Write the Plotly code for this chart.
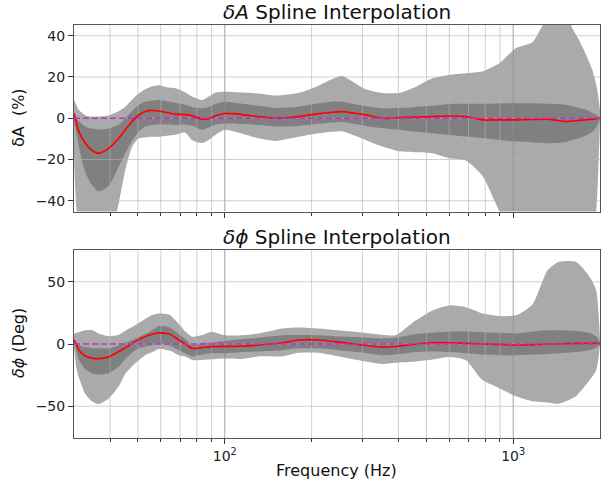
import math
import plotly.graph_objects as go

# ---------------- amplitude residual (percent) ----------------
freq_amp = [30, 31.2, 32.8, 34.5, 36.5, 39.5, 42.9, 45.2, 47.7, 50.3, 53, 56, 59, 63,
            67.4, 73, 77, 83.4, 88, 93, 100, 115, 131, 150, 180, 206, 236, 255, 308,
            352, 402, 460, 525, 600, 685, 783, 895, 1023, 1168, 1334, 1524, 1600, 1690,
            1780, 1880, 1950, 2000]
amp_median = [2.3, -6.4, -12, -15.4, -17, -14.6, -9.7, -5.6, -1.6, 1.6, 3.3, 3.8, 3.5, 2.8,
              2.0, 1.8, 1.3, -0.5, -0.2, 1.2, 2.3, 1.8, 0.8, 0.0, 0.8, 2.0, 2.9, 3.2, 1.6,
              0.0, 0.3, 0.5, 0.8, 1.1, 0.8, -0.8, -0.8, -0.8, -0.6, -0.5, -1.6, -1.4, -1.0,
              -0.8, -0.4, -0.2, 0.0]
amp_inner_lo = [-1, -14, -26, -32, -35.5, -33, -23.4, -17, -11, -6.5, -4, -3.3, -3, -3,
                -3.3, -3, -3.5, -5.6, -4.5, -3, -2.5, -2.8, -3.3, -4, -3.7, -2.8, -2.1, -1.8, -3.7,
                -4.8, -5.6, -6.5, -7.3, -8.1, -8.9, -9.7, -10.5, -11.3, -11.7, -12.1, -11.5, -10.5, -9.7,
                -8.5, -6.5, -4, -0.5]
amp_inner_hi = [3, -1.5, -4, -5, -5.5, -5, -3, 0, 3.5, 6.5, 8, 8.5, 8.8, 8.3,
                7.5, 6.5, 5.5, 4.8, 5.5, 7, 8, 7, 6, 5, 5.6, 7, 8, 8, 5.8,
                4.8, 5, 5.5, 6, 6.9, 7, 7, 7.2, 7.3, 7.3, 7, 6.5, 5.8, 5,
                4.3, 2.7, 1.5, 0.5]
amp_outer_lo = [-20, -55, -60, -60, -60, -60, -41, -25, -13.8, -9.7, -9.3, -9, -9, -8.5,
                -8, -7, -10.5, -12, -10.5, -8, -5.6, -7.5, -9.7, -11, -9, -7.5, -6.5, -6.3, -10.5,
                -13.7, -16, -16.5, -17, -19.4, -20.5, -28, -45, -60, -60, -60, -60, -60, -60,
                -60, -60, -40, -2]
amp_outer_hi = [8.8, 4, 1.5, 0.8, 0.8, 1.3, 3.5, 5.6, 9, 12, 14, 15.5, 16, 15,
                14.5, 12.5, 10.5, 8.8, 10.5, 12.5, 12.9, 12.5, 12, 11, 12.2, 15, 19, 20.5, 14,
                12.2, 12.2, 15.3, 19.4, 21, 21.8, 22.6, 26.6, 34, 37, 50, 52, 44, 38,
                31.5, 23.5, 15, 4]

# ---------------- phase residual (degrees) ----------------
freq_phase = [30, 30.5, 31.2, 32.8, 34.6, 36.5, 39.5, 42.9, 45.2, 48.9, 53, 56, 59, 64.3,
              69.3, 73, 77, 83.4, 90, 100, 115, 131, 158, 180, 212, 249, 292, 351, 391,
              460, 525, 600, 685, 783, 895, 1023, 1168, 1315, 1440, 1650, 1840, 1940, 2000]
phase_median = [3.2, 0, -4.8, -9.6, -11.3, -11.7, -10.5, -6.1, -3, 1.9, 6, 7.8, 9, 8,
                3.2, 0, -3.5, -3, -2.1, -1.9, -1.8, -0.8, 1, 3.2, 3.2, 1.5, -0.5, -2.5, -2,
                0, 1, 1, 0.5, 0, -0.3, -0.8, -0.5, 0, 0, 0.5, 0.5, 0.5, 0.5]
phase_inner_lo = [2, -5, -12.8, -20, -23.5, -24.5, -23.5, -18, -12, -5, -2.1, -1, 0, -1.3,
                  -5, -7.5, -10, -8.5, -7.5, -7.5, -6.5, -6, -5, -3.5, -3.5, -5, -6.5, -9, -8.5,
                  -6.5, -6, -6.5, -7.5, -8.5, -9, -9, -8.5, -8, -7.5, -6.5, -5, -3, 0]
phase_inner_hi = [4, 1.5, -0.8, -2.5, -3.5, -3.5, -3.5, -1, 1, 4.5, 8, 11, 14.4, 13.5,
                  8, 4, -0.8, 1, 1.3, 2.4, 4, 5, 7, 7.2, 7, 6, 5.5, 4.5, 5,
                  8, 9, 10, 10, 9.5, 9, 8.5, 10, 11, 11, 10.5, 9, 6, 1]
phase_outer_lo = [-2.7, -18, -27, -40, -46, -48.3, -44, -34, -24, -15.5, -9, -6.5, -4, -5.3,
                  -9, -10, -12.8, -12.8, -12.3, -11.7, -12, -10, -10, -7, -7, -10, -13, -16, -15,
                  -14, -12.5, -10.5, -13, -29, -35.5, -42, -46, -47, -48, -42, -29, -21, -1]
phase_outer_hi = [8, 9, 9.5, 11, 11.2, 8.5, 6.4, 7.5, 10.7, 15, 20, 23.2, 24.5, 23.5,
                  16, 10, 5.9, 7.2, 9.9, 7, 7, 8.5, 12.5, 13.3, 12.5, 11, 9.5, 7.5, 7,
                  19, 27, 31, 29.5, 24.5, 22.5, 23, 32, 59, 66, 66, 54, 43, 3]

# ---------------- axes setup ----------------
X_RANGE = [30, 2000]
AMP_RANGE = [-45.2, 45.2]
PHASE_RANGE = [-75.5, 75.5]
amp_ticks = [-40, -20, 0, 20, 40]
phase_ticks = [-50, 0, 50]
major_freqs = [100, 1000]
minor_freqs = [40, 50, 60, 70, 80, 90, 200, 300, 400, 500, 600, 700, 800, 900]

LIGHT = "#aaaaaa"
DARK = "#808080"
FONT = "DejaVu Sans"

fig = go.Figure()


def add_panel(xa, ya, freq, med, in_lo, in_hi, out_lo, out_hi, yrange, yticks):
    common = dict(xaxis=xa, yaxis=ya, showlegend=False, hoverinfo="skip",
                  line=dict(width=0, shape="spline", smoothing=0.6), mode="lines")
    fig.add_trace(go.Scatter(x=freq, y=out_lo, **common))
    fig.add_trace(go.Scatter(x=freq, y=out_hi, fill="tonexty", fillcolor=LIGHT, **common))
    fig.add_trace(go.Scatter(x=freq, y=in_lo, **common))
    fig.add_trace(go.Scatter(x=freq, y=in_hi, fill="tonexty", fillcolor=DARK, **common))

    # grid drawn over the bands, under the curves
    for vals, color in ((minor_freqs, "rgba(176,176,176,0.6)"),
                        (major_freqs, "rgba(140,140,140,0.8)")):
        xs, ys = [], []
        for v in vals:
            xs += [v, v, None]
            ys += [yrange[0], yrange[1], None]
        fig.add_trace(go.Scatter(x=xs, y=ys, mode="lines", xaxis=xa, yaxis=ya,
                                 line=dict(color=color, width=1),
                                 showlegend=False, hoverinfo="skip"))
    xs, ys = [], []
    for t in yticks:
        xs += [X_RANGE[0], X_RANGE[1], None]
        ys += [t, t, None]
    fig.add_trace(go.Scatter(x=xs, y=ys, mode="lines", xaxis=xa, yaxis=ya,
                             line=dict(color="rgba(176,176,176,0.6)", width=1),
                             showlegend=False, hoverinfo="skip"))

    fig.add_trace(go.Scatter(x=freq, y=med, mode="lines", xaxis=xa, yaxis=ya,
                             line=dict(color="red", width=1.7, shape="spline", smoothing=0.6),
                             showlegend=False))
    fig.add_trace(go.Scatter(x=X_RANGE, y=[0, 0], mode="lines", xaxis=xa, yaxis=ya,
                             line=dict(color="rgb(190,50,200)", width=1.5, dash="6px,3px"),
                             showlegend=False, hoverinfo="skip"))


add_panel("x", "y", freq_amp, amp_median, amp_inner_lo, amp_inner_hi,
          amp_outer_lo, amp_outer_hi, AMP_RANGE, amp_ticks)
add_panel("x2", "y2", freq_phase, phase_median, phase_inner_lo, phase_inner_hi,
          phase_outer_lo, phase_outer_hi, PHASE_RANGE, phase_ticks)

W, H = 602, 489
x_dom = [74 / W, 600 / W]
top_dom = [1 - 211.5 / H, 1 - 25 / H]
bot_dom = [1 - 438 / H, 1 - 250 / H]

xaxis_style = dict(
    type="log", range=[math.log10(X_RANGE[0]), math.log10(X_RANGE[1])],
    tickmode="array", tickvals=major_freqs,
    ticktext=["10<sup>2</sup>", "10<sup>3</sup>"],
    ticks="outside", ticklen=5, tickwidth=1, tickcolor="#333",
    showline=True, mirror=True, linecolor="#555", linewidth=1,
    showgrid=False, zeroline=False, domain=x_dom,
    tickfont=dict(size=14, color="#222", family=FONT),
    minor=dict(tickmode="array", tickvals=minor_freqs, ticks="outside",
               ticklen=3, tickcolor="#333", showgrid=False),
)
yaxis_style = dict(
    ticks="outside", ticklen=5, tickwidth=1, tickcolor="#333",
    showline=True, mirror=True, linecolor="#555", linewidth=1,
    showgrid=False, zeroline=False,
    tickfont=dict(size=14, color="#222", family=FONT),
)

fig.update_layout(
    width=W, height=H,
    margin=dict(l=0, r=0, t=0, b=0),
    paper_bgcolor="white", plot_bgcolor="white",
    font=dict(family=FONT, color="#222"),
    xaxis=dict(anchor="y", showticklabels=False, **xaxis_style),
    xaxis2=dict(anchor="y2", **xaxis_style),
    yaxis=dict(anchor="x", domain=top_dom, range=AMP_RANGE, tickvals=amp_ticks,
               ticktext=["\u221240", "\u221220", "0", "20", "40"], **yaxis_style),
    yaxis2=dict(anchor="x2", domain=bot_dom, range=PHASE_RANGE, tickvals=phase_ticks,
                ticktext=["\u221250", "0", "50"], **yaxis_style),
)

cx = (74 + 600) / 2 / W
annotations = [
    dict(text="<i>δA</i> Spline Interpolation", x=cx, y=1 - 12 / H, size=20),
    dict(text="<i>δϕ</i> Spline Interpolation", x=cx, y=1 - 237 / H, size=20),
    dict(text="Frequency (Hz)", x=cx, y=1 - 470 / H, size=16),
    dict(text="δA  (%)", x=18 / W, y=1 - 118 / H, size=16, textangle=-90),
    dict(text="<i>δϕ</i> (Deg)", x=18 / W, y=1 - 343 / H, size=16, textangle=-90),
]
for a in annotations:
    fig.add_annotation(text=a["text"], x=a["x"], y=a["y"], xref="paper", yref="paper",
                       xanchor="center", yanchor="middle", showarrow=False,
                       textangle=a.get("textangle", 0),
                       font=dict(size=a["size"], family=FONT, color="#111"))

fig.write_html("out.html")
